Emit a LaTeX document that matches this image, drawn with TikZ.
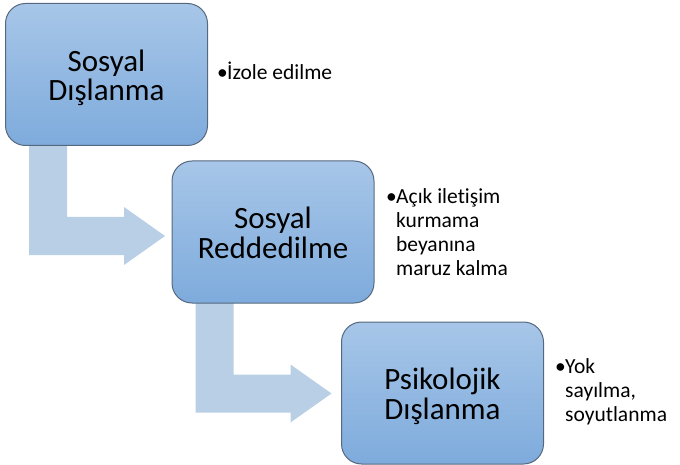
\documentclass[tikz,border=0pt]{standalone}
\usepackage{fontspec}
\setmainfont{Carlito}[Ligatures=NoCommon]
\usetikzlibrary{calc,backgrounds}
\definecolor{boxtop}{HTML}{A7C6E8}
\definecolor{boxbot}{HTML}{7EABDC}
\definecolor{boxline}{HTML}{56687E}
\definecolor{arrowcol}{HTML}{B9CFE6}
\tikzset{
  stage/.style={rectangle, rounded corners=20pt, draw=boxline, line width=1pt,
    top color=boxtop, bottom color=boxbot, minimum width=202pt, minimum height=142pt,
    inner sep=0pt, align=center, font=\fontsize{31}{32.5}\selectfont},
  note/.style={anchor=base west, inner sep=0pt, font=\fontsize{21.5}{24}\selectfont},
  bentarrow/.style={fill=arrowcol, draw=none}
}
\newcommand{\bul}{\makebox[10pt][l]{•}}
\newcommand{\twolines}[2]{\raisebox{-5pt}[\height][\depth]{\begin{tabular}{@{}c@{}}#1\\[-3pt]#2\end{tabular}}}
\begin{document}
\begin{tikzpicture}[x=1pt,y=-1pt]
\useasboundingbox (0,0) rectangle (680,465);
\node[stage] (b1) at (106.5,74.5) {\twolines{Sosyal}{Dışlanma}};
\node[stage] (b2) at (273,232) {\twolines{Sosyal}{Reddedilme}};
\node[stage] (b3) at (442.5,393) {\twolines{Psikolojik}{Dışlanma}};
\begin{pgfonlayer}{background}
\fill[bentarrow] ([shift={(24,-1)}]b1.south west) -- ++(38,0) -- ++(0,72) -- ++(57,0) -- ++(0,-10) -- ++(41,29) -- ++(-41,29) -- ++(0,-10) -- ++(-95,0) -- cycle;
\fill[bentarrow] ([shift={(24,-1)}]b2.south west) -- ++(38,0) -- ++(0,72) -- ++(57,0) -- ++(0,-10) -- ++(41,29) -- ++(-41,29) -- ++(0,-10) -- ++(-95,0) -- cycle;
\end{pgfonlayer}
\node[note] (n1) at (217,80) {\begin{tabular}[t]{@{}l@{}l@{}}\bul & İzole edilme\end{tabular}};
\node[note] (n2) at (386,204) {\begin{tabular}[t]{@{}l@{}l@{}}\bul & Açık iletişim\\ & kurmama\\ & beyanına\\ & maruz kalma\end{tabular}};
\node[note] (n3) at (555,373) {\begin{tabular}[t]{@{}l@{}l@{}}\bul & Yok\\ & sayılma,\\ & soyutlanma\end{tabular}};
\end{tikzpicture}
\end{document}
